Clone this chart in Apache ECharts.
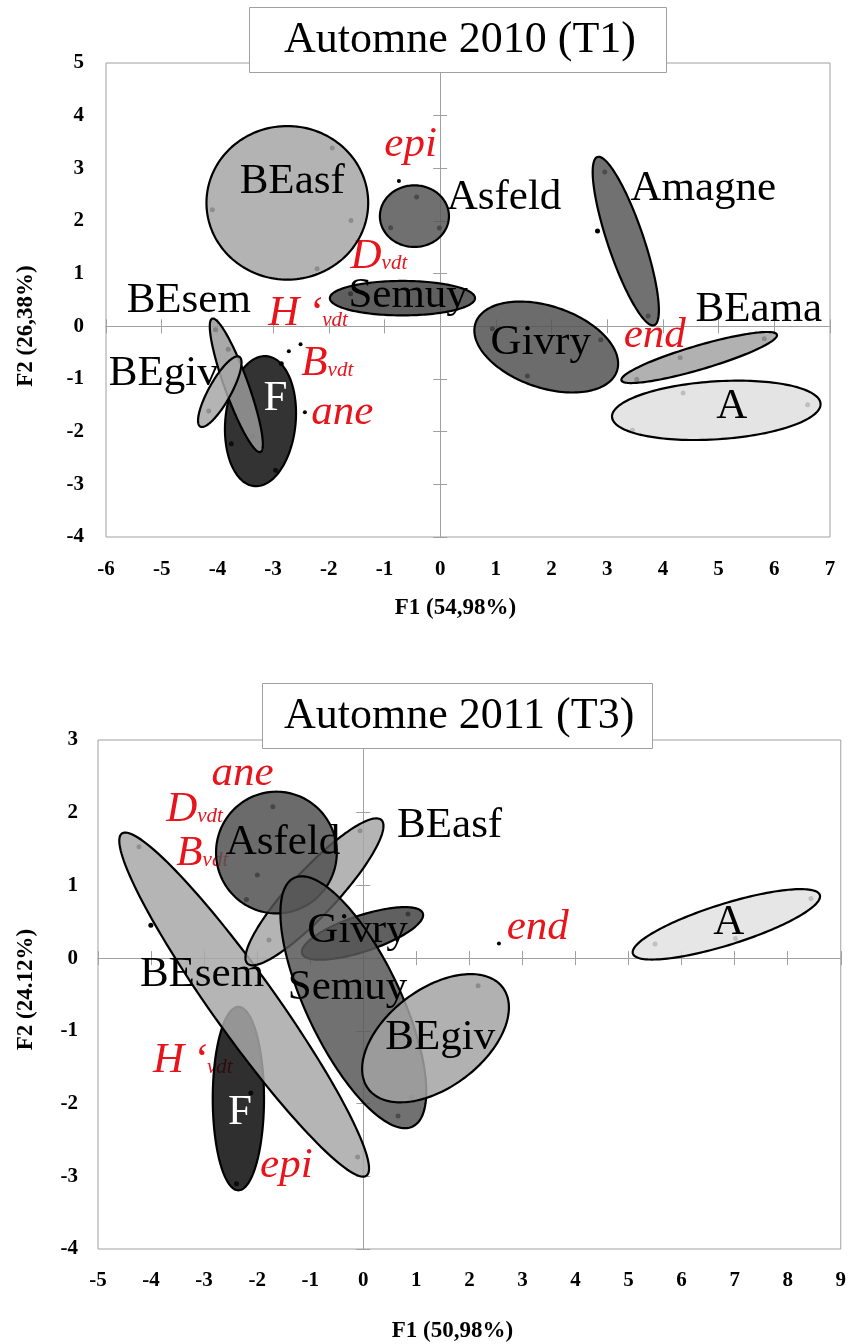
<!DOCTYPE html>
<html>
<head>
<meta charset="utf-8">
<script src="https://cdn.jsdelivr.net/npm/echarts@6.0.0/dist/echarts.min.js"></script>
<style>
  html, body { margin: 0; padding: 0; background: #fff; }
  #chart { width: 849px; height: 1344px; }
</style>
</head>
<body>
<div id="chart"></div>
<script>
// ---------- Autumn 2010 (T1) ----------
const sites2010 = ['F', 'BEsem', 'BEgiv', 'BEasf', 'Asfeld', 'Semuy', 'Amagne', 'Givry', 'BEama', 'A'];
// ellipse centre, then the two conjugate semi-axes (F1, F2 units)
const centers2010 = [[-3.226, -1.800], [-3.660, -1.120], [-3.957, -1.240], [-2.744, 2.345], [-0.462, 2.092],
                     [-0.677, 0.535], [3.333, 1.618], [1.905, -0.393], [4.651, -0.592], [4.958, -1.595]];
const majorAxes2010 = [[0.108, 1.234], [-0.433, 1.266], [0.350, 0.663], [1.452, 0], [0.620, 0],
                       [1.303, 0], [-0.509, 1.597], [1.269, -0.456], [1.396, 0.433], [1.872, 0.127]];
const minorAxes2010 = [[0.629, -0.057], [0.199, 0.076], [0.173, -0.103], [0, 1.458], [0, 0.585],
                       [0, 0.327], [0.307, 0.108], [-0.235, -0.733], [0.061, -0.218], [0.033, -0.549]];
const siteLabelAt2010 = [[-2.956, -1.382], [-4.514, 0.484], [-4.963, -0.908], [-2.656, 2.744], [1.147, 2.446],
                         [-0.575, 0.579], [4.726, 2.605], [1.806, -0.308], [5.723, 0.313], [5.235, -1.523]];
const samples2010 = [[-1.937, 3.385], [-4.090, 2.215], [-1.600, 2.010], [-2.210, 1.095],
                     [-0.422, 2.455], [-0.889, 1.873], [-0.014, 1.867],
                     [2.956, 2.930], [2.825, 1.810], [3.734, 0.196],
                     [-1.608, 0.621],
                     [0.938, -0.044], [2.884, -0.253], [1.567, -0.943],
                     [5.819, -0.234], [4.309, -0.595], [3.531, -1.006],
                     [4.363, -1.266], [6.598, -1.487], [3.453, -1.975],
                     [-4.034, -0.063], [-3.806, -0.437], [-3.364, -2.088],
                     [-4.155, -1.608],
                     [-2.853, -0.709], [-3.752, -2.228], [-2.956, -2.734]];
const variables2010 = [['epi', ''], ['D', 'vdt'], ['H\u2009\u2018', 'vdt'], ['B', 'vdt'], ['ane', ''], ['end', '']];
const variableLabelAt2010 = [[-0.530, 3.440], [-1.100, 1.320], [-2.372, 0.237], [-2.027, -0.706], [-1.757, -1.636], [3.854, -0.180]];
const variablePoints2010 = [[-0.740, 2.759], [-2.717, -0.475], [-2.507, -0.342], [-2.429, -1.633]];

// ---------- Autumn 2011 (T3) ----------
const sites2011 = ['F', 'BEsem', 'BEasf', 'Asfeld', 'Givry', 'Semuy', 'BEgiv', 'A'];
const centers2011 = [[-2.354, -1.931], [-2.245, -0.639], [-0.920, 0.912], [-1.637, 1.452],
                     [-0.015, 0.340], [-0.187, -0.606], [1.362, -1.101], [6.844, 0.465]];
const majorAxes2011 = [[0, 1.262], [2.305, -2.353], [1.263, 0.987], [1.138, 0],
                       [1.138, 0.275], [1.119, -1.709], [1.270, 0.694], [1.762, 0.402]];
const minorAxes2011 = [[0.483, 0], [0.477, 0.253], [0.312, -0.217], [0, 0.837],
                       [0.105, -0.235], [0.799, 0.284], [0.548, -0.544], [0.114, -0.270]];
const siteLabelAt2011 = [[-2.324, -2.122], [-3.040, -0.231], [1.628, 1.824], [-1.512, 1.585],
                         [-0.109, 0.378], [-0.296, -0.402], [1.450, -1.090], [6.891, 0.493]];
const samples2011 = [[-1.703, 2.083], [-1.996, 1.142], [-2.202, 0.808],
                     [-0.062, 1.752], [-1.777, 0.248],
                     [-4.228, 1.532], [-4.004, 0.454], [-0.107, -2.735],
                     [0.655, -2.171],
                     [0.842, 0.606],
                     [2.164, -0.381], [0.904, -1.909],
                     [-2.389, -3.101], [-2.120, -1.854],
                     [5.500, 0.193], [7.016, 0.271], [8.438, 0.821]];
const variables2011 = [['ane', ''], ['D', 'vdt'], ['B', 'vdt'], ['H\u2009\u2018', 'vdt'], ['epi', ''], ['end', '']];
const variableLabelAt2011 = [[-2.277, 2.535], [-3.181, 2.044], [-3.035, 1.442], [-3.212, -1.411], [-1.450, -2.856], [3.289, 0.424]];
const variablePoints2011 = [[2.557, 0.202]];

// ---------- styling ----------
const SERIF = '"Liberation Serif", "Times New Roman", Times, serif';
const RED = '#e8141b';
const FRAME = '#a0a0a0';
const FILL_ALPHA = 0.85;
const fills2010 = { F: '#333333', BEsem: '#a9a9a9', BEgiv: '#b4b4b4', BEasf: '#b3b3b3', Asfeld: '#707070',
                    Semuy: '#5f5f5f', Amagne: '#717171', Givry: '#6c6c6c', BEama: '#b1b1b1', A: '#e4e4e4' };
const fills2011 = { F: '#303030', BEsem: '#b5b5b5', BEasf: '#b4b4b4', Asfeld: '#6b6b6b', Givry: '#606060',
                    Semuy: '#717171', BEgiv: '#b1b1b1', A: '#e6e6e6' };

// fill that shows the given grey on white once laid with the common alpha
function veil(hex, a) {
  const n = parseInt(hex.slice(1), 16);
  const ch = [(n >> 16) & 255, (n >> 8) & 255, n & 255]
    .map(c => Math.max(0, Math.round((c - 255 * (1 - a)) / a)));
  return 'rgba(' + ch.join(',') + ',' + a + ')';
}

function ellipseRenderer(sites, fills) {
  return function (params, api) {
    const cx = api.value(0), cy = api.value(1);
    const ux = api.value(2), uy = api.value(3), vx = api.value(4), vy = api.value(5);
    const pts = [];
    const N = 160;
    for (let k = 0; k < N; k++) {
      const t = (k / N) * Math.PI * 2;
      const c = Math.cos(t), s = Math.sin(t);
      pts.push(api.coord([cx + ux * c + vx * s, cy + uy * c + vy * s]));
    }
    return {
      type: 'polygon',
      shape: { points: pts },
      style: { fill: veil(fills[sites[params.dataIndex]], FILL_ALPHA), stroke: '#000', lineWidth: 2.2 }
    };
  };
}

const panels = [
  {
    title: 'Automne 2010 (T1)', titleLeft: 249, titleTop: 7, titlePad: [8, 31, 8, 35],
    grid: { left: 106, top: 63, width: 724, height: 474 },
    xRange: [-6, 7], yRange: [-4, 5],
    xName: 'F1 (54,98%)', yName: 'F2 (26,38%)',
    xNameGap: 60, xNamePad: [0, 25, 0, 0], yNameGap: 68, yNamePad: [0, 52, 0, 0],
    xLabelMargin: 22, yLabelMargin: 22,
    sites: sites2010, centers: centers2010, major: majorAxes2010, minor: minorAxes2010,
    siteLabels: siteLabelAt2010, samples: samples2010, fills: fills2010,
    variables: variables2010, variableLabels: variableLabelAt2010, variablePoints: variablePoints2010
  },
  {
    title: 'Automne 2011 (T3)', titleLeft: 262, titleTop: 683, titlePad: [8, 18, 8, 22],
    grid: { left: 98, top: 740, width: 748, height: 509 },
    xRange: [-5, 9], yRange: [-4, 3],
    xName: 'F1 (50,98%)', yName: 'F2 (24.12%)',
    xNameGap: 71, xNamePad: [0, 34, 0, 0], yNameGap: 60, yNamePad: [0, 0, 0, 10],
    xLabelMargin: 21, yLabelMargin: 20,
    sites: sites2011, centers: centers2011, major: majorAxes2011, minor: minorAxes2011,
    siteLabels: siteLabelAt2011, samples: samples2011, fills: fills2011,
    variables: variables2011, variableLabels: variableLabelAt2011, variablePoints: variablePoints2011
  }
];

const option = { animation: false, title: [], grid: [], xAxis: [], yAxis: [], series: [] };

const tickLabel = { fontFamily: SERIF, fontSize: 21, fontWeight: 'bold', color: '#000' };
const nameStyle = { fontFamily: SERIF, fontSize: 23, fontWeight: 'bold', color: '#000' };

panels.forEach(function (p, i) {
  const a = i * 3; // index of the panel's main axes
  option.title.push({
    text: p.title, left: p.titleLeft, top: p.titleTop, padding: p.titlePad,
    backgroundColor: '#fff', borderColor: FRAME, borderWidth: 1,
    textStyle: { fontFamily: SERIF, fontSize: 44, fontWeight: 'normal', color: '#000', lineHeight: 50 }
  });
  option.grid.push(Object.assign({ show: true, borderColor: FRAME, borderWidth: 1, backgroundColor: 'transparent' }, p.grid));

  const common = (range) => ({ gridIndex: i, type: 'value', min: range[0], max: range[1], interval: 1, splitLine: { show: false } });

  // labelled axes on the frame
  option.xAxis.push(Object.assign(common(p.xRange), {
    position: 'bottom',
    axisLine: { show: false, onZero: false }, axisTick: { show: false },
    axisLabel: Object.assign({ margin: p.xLabelMargin }, tickLabel),
    name: p.xName, nameLocation: 'middle', nameGap: p.xNameGap,
    nameTextStyle: Object.assign({ padding: p.xNamePad }, nameStyle)
  }));
  option.yAxis.push(Object.assign(common(p.yRange), {
    position: 'left',
    axisLine: { show: false, onZero: false }, axisTick: { show: false },
    axisLabel: Object.assign({ margin: p.yLabelMargin }, tickLabel),
    name: p.yName, nameLocation: 'middle', nameGap: p.yNameGap,
    nameTextStyle: Object.assign({ padding: p.yNamePad }, nameStyle)
  }));
  // axes through the origin, ticks crossing the line on both sides
  ['bottom', 'top'].forEach(function (pos, k) {
    option.xAxis.push(Object.assign(common(p.xRange), {
      position: pos,
      axisLine: { show: k === 0, onZero: true, onZeroAxisIndex: a, lineStyle: { color: FRAME, width: 1 } },
      axisTick: { show: true, length: 7, lineStyle: { color: FRAME, width: 1 } },
      axisLabel: { show: false }
    }));
  });
  ['left', 'right'].forEach(function (pos, k) {
    option.yAxis.push(Object.assign(common(p.yRange), {
      position: pos,
      axisLine: { show: k === 0, onZero: true, onZeroAxisIndex: a, lineStyle: { color: FRAME, width: 1 } },
      axisTick: { show: true, length: 7, lineStyle: { color: FRAME, width: 1 } },
      axisLabel: { show: false }
    }));
  });

  // variable names (red), under the ellipses
  option.series.push({
    type: 'scatter', xAxisIndex: a, yAxisIndex: a, z: 1, silent: true, symbolSize: 0,
    itemStyle: { opacity: 1 },
    data: p.variableLabels.map((c, k) => ({ value: c, name: p.variables[k].join('') })),
    label: {
      show: true, position: 'inside',
      formatter: (q) => {
        const v = p.variables[q.dataIndex];
        return '{i|' + v[0] + '}' + (v[1] ? '{s|' + v[1] + '}' : '');
      },
      rich: {
        i: { fontFamily: SERIF, fontStyle: 'italic', fontSize: 43, lineHeight: 43, color: RED },
        s: { fontFamily: SERIF, fontStyle: 'italic', fontSize: 21, color: RED, verticalAlign: 'bottom', padding: [0, 0, 4, 0] }
      }
    }
  });
  // variable points
  option.series.push({
    type: 'scatter', xAxisIndex: a, yAxisIndex: a, z: 1, silent: true,
    symbolSize: 4, itemStyle: { color: '#000', opacity: 1 }, data: p.variablePoints
  });
  // individual samples
  option.series.push({
    type: 'scatter', xAxisIndex: a, yAxisIndex: a, z: 1, silent: true,
    symbolSize: 5, itemStyle: { color: '#000', opacity: 1 }, data: p.samples
  });
  // site ellipses
  option.series.push({
    type: 'custom', xAxisIndex: a, yAxisIndex: a, z: 2, silent: true,
    renderItem: ellipseRenderer(p.sites, p.fills),
    data: p.sites.map((s, k) => [p.centers[k][0], p.centers[k][1], p.major[k][0], p.major[k][1], p.minor[k][0], p.minor[k][1]]),
    encode: { x: 0, y: 1 }
  });
  // site names
  option.series.push({
    type: 'scatter', xAxisIndex: a, yAxisIndex: a, z: 4, silent: true, symbolSize: 0,
    itemStyle: { opacity: 1 },
    data: p.siteLabels.map((c, k) => ({
      value: c, name: p.sites[k],
      label: p.sites[k] === 'F' ? { color: '#fff' } : undefined
    })),
    label: {
      show: true, position: 'inside', formatter: '{b}',
      fontFamily: SERIF, fontSize: 43, lineHeight: 43, color: '#000'
    }
  });
});

const chart = echarts.init(document.getElementById('chart'), null, { renderer: 'canvas' });
chart.setOption(option);
</script>
</body>
</html>
